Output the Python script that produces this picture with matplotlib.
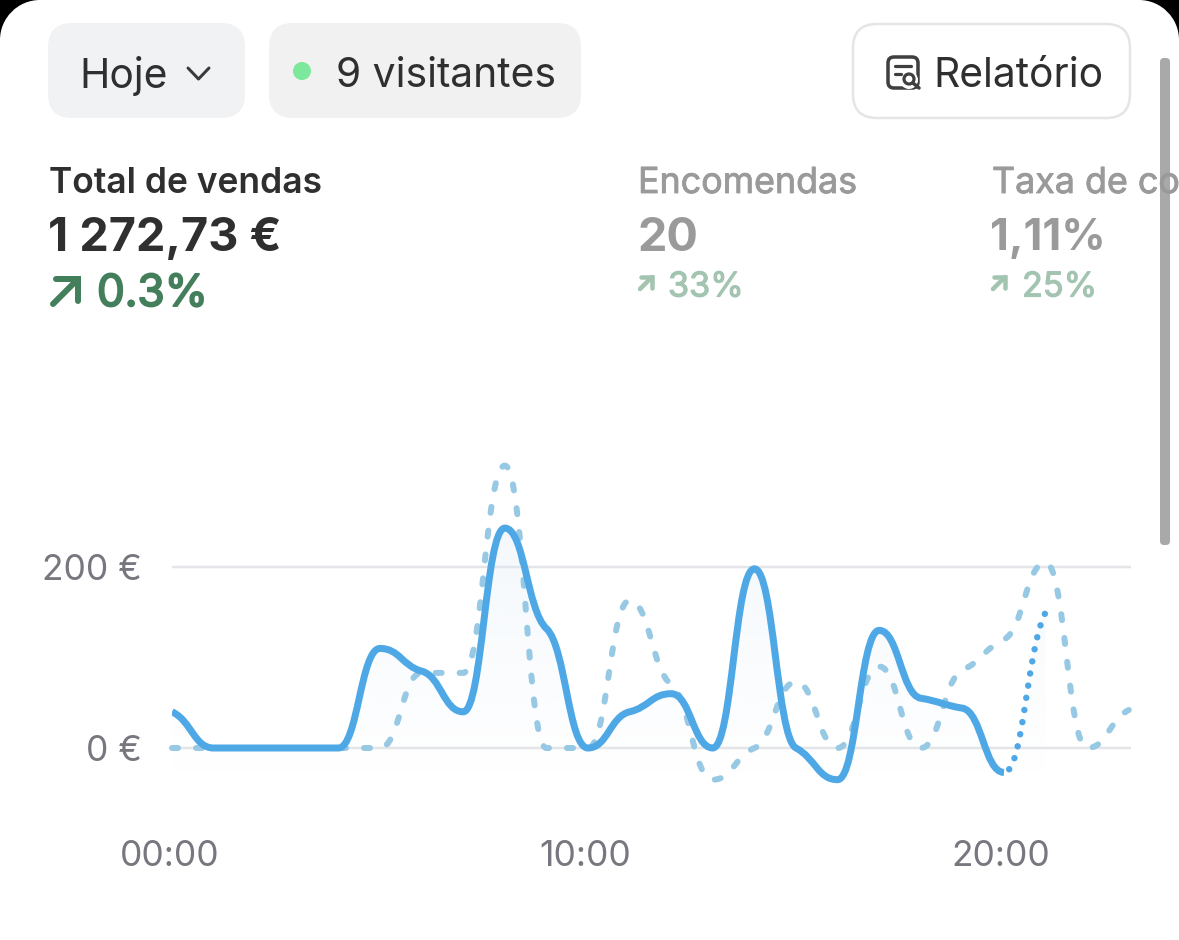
import numpy as np
import matplotlib
matplotlib.use('Agg')
import matplotlib.pyplot as plt
import matplotlib.patheffects as pe
from matplotlib.patches import FancyBboxPatch, PathPatch, Circle
from matplotlib.path import Path
from matplotlib.transforms import ScaledTranslation

plt.rcParams['font.family'] = ['Inter', 'DejaVu Sans']
plt.rcParams['lines.scale_dashes'] = False

# hourly sales
hoje = [40, 0, 0, 0, 0, 110, 85, 40, 243, 132, 0, 40, 60, 0, 198, 0, -35, 130, 55, 44, -27, 150]
anterior = [0, 0, 0, 0, 0, 0, 83, 83, 312, 0, 0, 163, 70, -35, 0, 73, 0, 90, 0, 86, 120, 205, 0, 42]
y_ticks = [0, 200]
y_labels = ['0 €', '200 €']
x_ticks = [0, 10, 20]
x_labels = ['00:00', '10:00', '20:00']

W, H = 1179, 940
BLUE = '#4fa8e6'
BLUE_LIGHT = '#97c8e4'
DARK = '#2f2f2f'
GREY = '#9a9a9a'
GREEN = '#447f5c'
GREEN_LIGHT = '#a2c4b0'
TENSION = 0.35
HANDLE = 0.47


def px(n):
    # pixels to points
    return n * 0.72


def slopes(y):
    # monotone tangents, flattened: the curve nearly levels off at every point
    y = np.array(y, dtype=float)
    t = np.zeros(len(y))
    for i in range(1, len(y) - 1):
        s0 = y[i] - y[i - 1]
        s1 = y[i + 1] - y[i]
        p = (s0 + s1) / 2
        t[i] = (np.sign(s0) + np.sign(s1)) * min(abs(s0), abs(s1), 0.5 * abs(p))
    t[0] = (3 * (y[1] - y[0]) - t[1]) / 2
    t[-1] = (3 * (y[-1] - y[-2]) - t[-2]) / 2
    return t * TENSION


def curve(y, start, end):
    t = slopes(y)
    verts = [(start, y[start])]
    codes = [Path.MOVETO]
    for i in range(start, end):
        verts += [(i + HANDLE, y[i] + t[i] * HANDLE), (i + 1 - HANDLE, y[i + 1] - t[i + 1] * HANDLE), (i + 1, y[i + 1])]
        codes += [Path.CURVE4] * 3
    return verts, codes


fig = plt.figure(figsize=(W / 100, H / 100), dpi=100)

# chart axes, placed in pixels
top, bottom, left, right = 440, 800, 172, 1131
ax = fig.add_axes([left / W, 1 - bottom / H, (right - left) / W, (bottom - top) / H])
for s in ax.spines.values():
    s.set_visible(False)
ax.set_xticks(x_ticks)
ax.set_xticklabels(x_labels)
ax.set_yticks(y_ticks)
ax.set_yticklabels(y_labels)
ax.tick_params(length=0, labelsize=25.5, labelcolor='#77777f')
ax.tick_params(axis='x', pad=29)
ax.tick_params(axis='y', pad=22)
ax.grid(axis='y', color='#e4e5e9', lw=px(2.5))
ax.set_axisbelow(True)
for lab, dx in zip(ax.get_xticklabels(), [-2, -2.5, -3.5]):
    lab.set_transform(lab.get_transform() + ScaledTranslation(px(dx) / 72, 0, fig.dpi_scale_trans))

# pale gradient below the current line
v, c = curve(hoje, 0, 21)
floor = -32
area = Path(v + [(21, floor), (0, floor), (0, hoje[0])], c + [Path.LINETO] * 3)
grad = np.zeros((64, 2, 4))
grad[..., :3] = matplotlib.colors.to_rgb('#dbe9f6')
grad[..., 3] = np.linspace(0.3, 0.0, 64)[:, None]
im = ax.imshow(grad, extent=(0, 21, floor, 245), origin='upper', aspect='auto', zorder=1.5,
               interpolation='bilinear')
im.set_clip_path(PathPatch(area, transform=ax.transData))
ax.set_xlim(0, (right - left) / 41.6)
ax.set_ylim((748 - bottom) / 0.905, (748 - top) / 0.905)

v, c = curve(anterior, 0, 23)
ax.add_patch(PathPatch(Path(v, c), fill=False, ec=BLUE_LIGHT, lw=px(6), capstyle='round',
                       linestyle=(0, (px(6), px(18))), zorder=2, clip_on=False))
v, c = curve(hoje, 0, 20)
ax.add_patch(PathPatch(Path(v, c), fill=False, ec=BLUE, lw=px(7), capstyle='butt', joinstyle='round', zorder=3))
t = slopes(hoje)
v = [(20, hoje[20]), (20 + HANDLE, hoje[20] + t[20] * HANDLE), (21 - HANDLE, hoje[21] - t[21] * HANDLE), (21, hoje[21])]
c = [Path.MOVETO] + [Path.CURVE4] * 3
ax.add_patch(PathPatch(Path(v, c), fill=False, ec=BLUE, lw=px(6.5), capstyle='round',
                       linestyle=(px(6), (0.01, px(12.3))), zorder=3))

# page furniture, drawn in pixel coordinates on top
ui = fig.add_axes([0, 0, 1, 1], facecolor='none')
ui.set_xlim(0, W)
ui.set_ylim(H, 0)
ui.axis('off')


def pill(x0, y0, x1, y1, r, fc, ec='none', lw=0):
    return ui.add_patch(FancyBboxPatch((x0 + r, y0 + r), x1 - x0 - 2 * r, y1 - y0 - 2 * r,
                                       boxstyle='round,pad=%d,rounding_size=%d' % (r, r),
                                       fc=fc, ec=ec, lw=lw))


def arrow(x0, y0, s, color, lw):
    # small up-right arrow, s is its width
    ui.plot([x0, x0 + s], [y0 + s, y0], color=color, lw=lw, solid_capstyle='round')
    ui.plot([x0 + 0.12 * s, x0 + s, x0 + s], [y0, y0, y0 + 0.88 * s], color=color, lw=lw,
            solid_capstyle='round', solid_joinstyle='miter')


def label(x, y, s, size, color, weight='normal', stroke=0):
    t = ui.text(x, y, s, fontsize=size, color=color, fontweight=weight, va='center_baseline')
    if stroke:
        # Inter has no medium cut here, thicken the regular one a little
        t.set_path_effects([pe.withStroke(linewidth=stroke, foreground=color)])


# black screen corners
k = 0.5523
R = 40
ui.add_patch(PathPatch(Path([(0, 0), (0, R), (0, R - k * R), (R - k * R, 0), (R, 0), (0, 0)],
                            [Path.MOVETO, Path.LINETO, Path.CURVE4, Path.CURVE4, Path.CURVE4, Path.CLOSEPOLY]),
                       fc='black', ec='none'))
ui.add_patch(PathPatch(Path([(W, 0), (W, R), (W, R - k * R), (W - R + k * R, 0), (W - R, 0), (W, 0)],
                            [Path.MOVETO, Path.LINETO, Path.CURVE4, Path.CURVE4, Path.CURVE4, Path.CLOSEPOLY]),
                       fc='black', ec='none'))

pill(48, 23, 245, 118, 24, '#f1f2f4')
pill(269, 23, 581, 118, 24, '#f1f1f2')
pill(853, 24, 1130, 118, 24, 'white', '#e5e5e5', px(2.5))

label(79, 72, 'Hoje', 29.3, DARK)
ui.plot([188, 198.5, 209], [68, 79, 68], color='#3a3a3a', lw=px(3), solid_capstyle='round')
ui.add_patch(Circle((302, 71), 9, fc='#7be89b', ec='none'))
label(336, 72, '9 visitantes', 29.4, DARK)
label(933, 72, 'Relatório', 29.3, DARK)

# report icon
ui.add_patch(FancyBboxPatch((893, 62), 20, 21, boxstyle='round,pad=5,rounding_size=6',
                            fc='none', ec='#3f3f3f', lw=px(3.5)))
ui.plot([895, 911], [66, 66], color='#3f3f3f', lw=px(3.2), solid_capstyle='round')
ui.plot([895, 901], [74, 74], color='#3f3f3f', lw=px(3.2), solid_capstyle='round')
ui.add_patch(Circle((909, 80), 9, fc='white', ec='none'))
ui.add_patch(Circle((909, 79), 5, fc='white', ec='#3f3f3f', lw=px(3.2)))
ui.plot([913, 919], [83, 88], color='#3f3f3f', lw=px(3.5), solid_capstyle='round')

# metric blocks
label(49, 180, 'Total de vendas', 25.5, DARK, 'semibold')
label(48, 234, '1 272,73 €', 33.7, DARK, 'bold')
arrow(53, 279, 25, GREEN, px(6))
label(97, 290, '0.3%', 31.7, GREEN, stroke=1.4)

label(638, 180, 'Encomendas', 25.8, GREY, stroke=0.6)
label(638, 234, '20', 33.7, GREY, 'bold')
arrow(640, 277, 12, GREEN_LIGHT, px(4.5))
label(668, 284, '33%', 24.6, GREEN_LIGHT, stroke=0.8)

label(992, 180, 'Taxa de co', 25.8, GREY, stroke=0.6)
label(990, 234, '1,11%', 31.5, GREY, 'bold')
arrow(993, 277, 12, GREEN_LIGHT, px(4.5))
label(1022, 284, '25%', 24.6, GREEN_LIGHT, stroke=0.8)

# scrollbar over the text
pill(1160, 58, 1170, 545, 4, '#707070').set_alpha(0.6)

fig.savefig('out.png', dpi=100, facecolor='white')
